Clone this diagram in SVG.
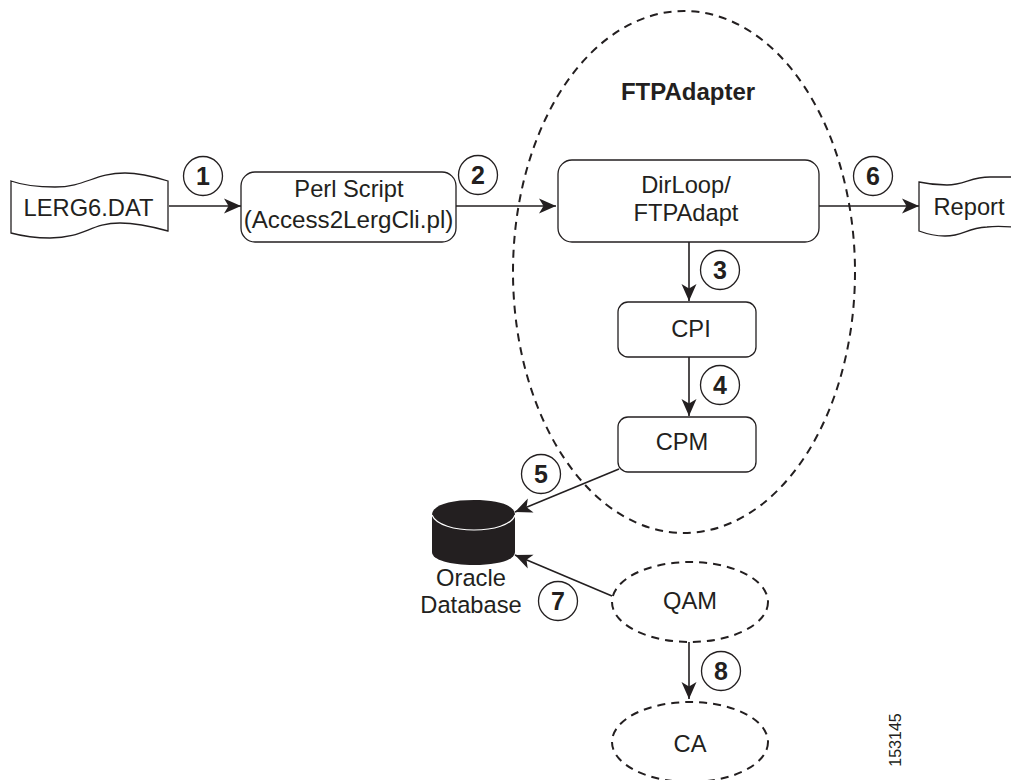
<svg xmlns="http://www.w3.org/2000/svg" width="1011" height="780" viewBox="0 0 1011 780">
<style>
text{font-family:"Liberation Sans",Arial,sans-serif;fill:#231f20;font-size:23.7px;text-anchor:middle}
.b{fill:#fff;stroke:#231f20;stroke-width:1.3}
.d{fill:none;stroke:#231f20;stroke-width:2;stroke-dasharray:8 6}
.c{fill:#fff;stroke:#231f20;stroke-width:1.3}
text.n{font-weight:bold;font-size:25px}
.l{stroke:#231f20;stroke-width:1.6;fill:none;marker-end:url(#a)}
</style>
<defs><marker id="a" markerUnits="userSpaceOnUse" markerWidth="18" markerHeight="16" refX="17" refY="7.5" orient="auto" viewBox="0 0 18 15"><path d="M0 0L17 7.5L0 15L4.5 7.5Z" fill="#231f20"/></marker></defs>
<g id="connectors">
<path class="l" d="M169 206H241"/>
<path class="l" d="M456 206H556"/>
<path class="l" d="M819 206H919"/>
<path class="l" d="M689 242V301"/>
<path class="l" d="M689 357V416"/>
<path class="l" d="M619 469L515 512"/>
<path class="l" d="M612 596L515 555"/>
<path class="l" d="M689 642V699"/>
</g>
<g id="ftpadapter"><ellipse class="d" cx="684" cy="272" rx="171" ry="261"/><text x="688" y="100" style="font-weight:bold;font-size:24px">FTPAdapter</text></g>
<g id="lerg"><path class="b" d="M11 181C25 186 40 187 55 187C85 187 95 173 125 173C140 173 155 177 168 181V231C150 226 135 223 120 223C90 223 85 238 50 238C35 238 22 236 11 233Z"/><text x="88.500" y="216">LERG6.DAT</text></g>
<g id="perl"><rect class="b" x="241" y="172" width="215" height="70" rx="14"/><text x="349" y="197">Perl Script</text><text x="348.500" y="228" style="font-size:24.200px">(Access2LergCli.pl)</text></g>
<g id="dirloop"><rect class="b" x="558" y="160" width="261" height="82" rx="14"/><text x="686" y="193">DirLoop/</text><text x="686" y="221">FTPAdapt</text></g>
<g id="cpi"><rect class="b" x="618" y="302" width="138" height="55" rx="10"/><text x="691" y="337">CPI</text></g>
<g id="cpm"><rect class="b" x="618" y="417" width="138" height="55" rx="10"/><text x="682" y="450">CPM</text></g>
<g id="report"><path class="b" d="M919 182C928 184 938 185 947 185C965 185 970 177 990 177C998 177 1005 177 1012 177V227C1000 226 995 226 987 227C965 228 965 236 945 236C935 236 927 234 919 231Z"/><text x="969" y="215">Report</text></g>
<g id="database"><path fill="#231f20" d="M432 515C432 505 450 500 474 500C498 500 515 505 515 515V552C515 560 498 565 474 565C450 565 432 560 432 552Z"/><path d="M432 515C436 525 455 530 474 530C493 530 512 525 515 515" fill="none" stroke="#fff" stroke-width="1.2"/><text x="471" y="586">Oracle</text><text x="471" y="613">Database</text></g>
<g id="qam"><ellipse class="d" cx="690" cy="602" rx="78" ry="40"/><text x="690" y="609">QAM</text></g>
<g id="ca"><ellipse class="d" cx="690" cy="742" rx="78" ry="40"/><text x="690" y="752">CA</text></g>
<g id="n1"><circle class="c" cx="203" cy="176" r="19.500"/><text class="n" x="203" y="185">1</text></g>
<g id="n2"><circle class="c" cx="478" cy="175" r="19.500"/><text class="n" x="478" y="184">2</text></g>
<g id="n3"><circle class="c" cx="720" cy="270" r="19.500"/><text class="n" x="720" y="279">3</text></g>
<g id="n4"><circle class="c" cx="720" cy="385" r="19.500"/><text class="n" x="720" y="394">4</text></g>
<g id="n5"><circle class="c" cx="541" cy="474" r="19.500"/><text class="n" x="541" y="483">5</text></g>
<g id="n6"><circle class="c" cx="873" cy="176" r="19.500"/><text class="n" x="873" y="185">6</text></g>
<g id="n7"><circle class="c" cx="558" cy="601" r="19.500"/><text class="n" x="558" y="610">7</text></g>
<g id="n8"><circle class="c" cx="721" cy="671" r="19.500"/><text class="n" x="721" y="680">8</text></g>
<text transform="translate(900.500 740) rotate(-90)" style="font-size:16px">153145</text>
</svg>
